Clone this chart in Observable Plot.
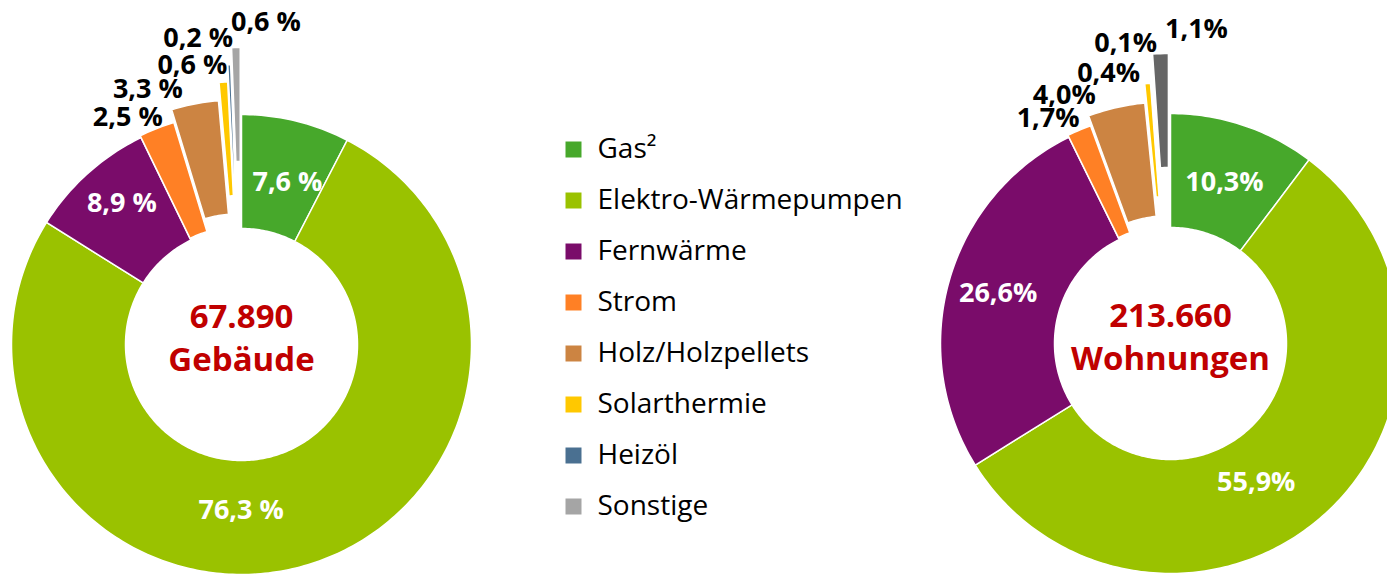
<!DOCTYPE html>
<html><head><meta charset="utf-8">
<script src="https://cdn.jsdelivr.net/npm/d3@7"></script>
<script src="https://cdn.jsdelivr.net/npm/@observablehq/plot@0.6"></script>
<style>html,body{margin:0;padding:0;background:#fff} #chart svg{display:block}</style>
</head><body><div id="chart"></div>
<script>
// ---- data ----
const categories = ["Gas","Elektro-Wärmepumpen","Fernwärme","Strom","Holz/Holzpellets","Solarthermie","Heizöl","Sonstige"];
const legendLabels = ["Gas²","Elektro-Wärmepumpen","Fernwärme","Strom","Holz/Holzpellets","Solarthermie","Heizöl","Sonstige"];
const colors = ["#47A82B","#9AC200","#7A0C6A","#FF8025","#CC8442","#FFC800","#4A7091","#A5A5A5"];
const sonstigeDarkColor = "#666666";
const gebaeudeValues = [7.6, 76.3, 8.9, 2.5, 3.3, 0.6, 0.2, 0.6];
const wohnungenValues = [10.3, 55.9, 26.6, 1.7, 4.0, 0.4, 0.1, 1.1];
const gebaeudeLabels = ["7,6 %","76,3 %","8,9 %","2,5 %","3,3 %","0,6 %","0,2 %","0,6 %"];
const wohnungenLabels = ["10,3%","55,9%","26,6%","1,7%","4,0%","0,4%","0,1%","1,1%"];
const gebaeudeTotal = ["67.890", "Gebäude"];
const wohnungenTotal = ["213.660", "Wohnungen"];

// ---- layout ----
const W = 1387, H = 574;
const R = 230, R0 = 116;
const charts = [
  {values: gebaeudeValues, labels: gebaeudeLabels, total: gebaeudeTotal, cx: 241, cy: 344,
   explode: [0,0,0,2,15,33,50,67],
   labelOffset: [[5,6],[-46,-1],[-4,-12],[-29,-11],[-47,-15],[-31,-17],[-31,-26],[30,-25]],
   darkOther: false},
  {values: wohnungenValues, labels: wohnungenLabels, total: wohnungenTotal, cx: 1170, cy: 343,
   explode: [0,0,0,2,12,31,45,60],
   labelOffset: [[-1,3],[-31,11],[-6,-3],[-31,-12],[-52,-12],[-39,-10],[-25,-26],[36,-24]],
   darkOther: true}
];

const slicePts = [], labelPts = [], centerTexts = [];
charts.forEach((c, ci) => {
  const total = d3.sum(c.values);
  let acc = 0;
  c.values.forEach((v, i) => {
    const a0 = acc / total * 2 * Math.PI; acc += v;
    const a1 = acc / total * 2 * Math.PI;
    const am = (a0 + a1) / 2, e = c.explode[i];
    const ox = c.cx + e * Math.sin(am), oy = c.cy - e * Math.cos(am);
    const key = (i === 7 && c.darkOther) ? "Sonstige (dunkel)" : categories[i];
    const n = Math.max(2, Math.ceil((a1 - a0) / (Math.PI / 180)));
    const id = ci + "-" + i;
    for (let k = 0; k <= n; k++) { const a = a0 + (a1 - a0) * k / n; slicePts.push({id, key, x: ox + R * Math.sin(a), y: oy - R * Math.cos(a)}); }
    for (let k = n; k >= 0; k--) { const a = a0 + (a1 - a0) * k / n; slicePts.push({id, key, x: ox + R0 * Math.sin(a), y: oy - R0 * Math.cos(a)}); }
    const inside = i < 3;
    const lr = inside ? (R + R0) / 2 : R + e;
    const [dx, dy] = c.labelOffset[i];
    labelPts.push({text: c.labels[i], inside, x: c.cx + lr * Math.sin(am) + dx, y: c.cy - lr * Math.cos(am) + dy});
  });
  centerTexts.push({text: c.total[0], x: c.cx, y: c.cy - 27});
  centerTexts.push({text: c.total[1], x: c.cx, y: c.cy + 16});
});

const legendRows = legendLabels.map((label, i) => ({label, key: categories[i], y: 149 + i * 51}));

const plot = Plot.plot({
  width: W, height: H, margin: 0,
  x: {domain: [0, W], range: [0, W], axis: null},
  y: {domain: [0, H], range: [0, H], axis: null},
  color: {domain: [...categories, "Sonstige (dunkel)"], range: [...colors, sonstigeDarkColor]},
  style: {fontFamily: "'Open Sans', sans-serif", background: "white", overflow: "visible"},
  marks: [
    Plot.line(slicePts, {x: "x", y: "y", z: "id", fill: "key", stroke: "white", strokeWidth: 1.5, curve: "linear-closed", strokeLinejoin: "miter", strokeMiterlimit: 4}),
    Plot.text(labelPts.filter(d => d.inside), {x: "x", y: "y", text: "text", fill: "white", fontSize: 27, fontWeight: "bold"}),
    Plot.text(labelPts.filter(d => !d.inside), {x: "x", y: "y", text: "text", fill: "black", fontSize: 27, fontWeight: "bold"}),
    Plot.text(centerTexts, {x: "x", y: "y", text: "text", fill: "#C00000", fontSize: 33, fontWeight: "bold"}),
    Plot.dot(legendRows, {x: () => 573, y: "y", symbol: "square", r: 16 / Math.sqrt(Math.PI), fill: "key"}),
    Plot.text(legendRows, {x: () => 597, y: "y", text: "label", textAnchor: "start", fill: "black", fontSize: 28})
  ]
});
document.getElementById("chart").appendChild(plot);
</script>
</body></html>
